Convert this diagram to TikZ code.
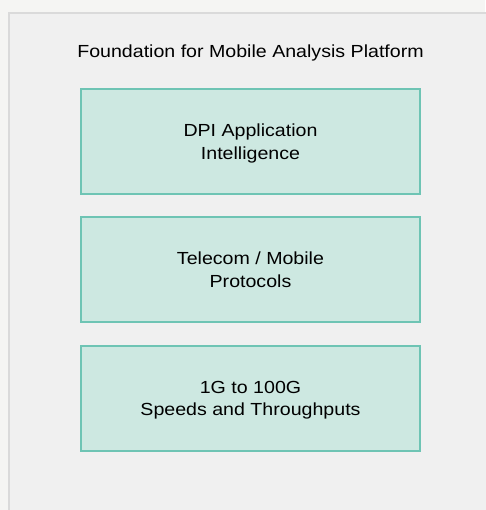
\documentclass[tikz,border=0pt]{standalone}
\usepackage{fontspec}
\setmainfont{Liberation Sans}[FakeStretch=1.12]
\definecolor{bgout}{RGB}{245, 245, 243}
\definecolor{bgin}{RGB}{240, 240, 240}
\definecolor{frame}{RGB}{218, 218, 218}
\definecolor{T}{RGB}{110, 196, 180}
\definecolor{TF}{RGB}{205, 232, 225}
\tikzset{
  layer/.style={draw=T, fill=TF, line width=2.5pt, minimum width=339pt, minimum height=105pt, align=center, font=\fontsize{17.5}{22.5}\selectfont, inner sep=0pt, text depth=0pt}
}

\begin{document}
\begin{tikzpicture}[x=1pt, y=-1pt]
  \useasboundingbox (0,0) rectangle (485,510);
  \fill[bgout] (0,0) rectangle (485,510);
  \draw[frame, fill=bgin, line width=2pt] (9,13) rectangle (495,520);
  \node[font=\fontsize{17.5}{21}\selectfont] (title) at (250.5,53) {Foundation for Mobile Analysis Platform};
  \node[layer] (dpi) at (250.5,141.5) {DPI Application\\Intelligence};
  \node[layer] (proto) at (250.5,269.5) {Telecom / Mobile\\Protocols};
  \node[layer] (speed) at (250.5,398.5) {1G to 100G\\Speeds and Throughputs};
\end{tikzpicture}
\end{document}
